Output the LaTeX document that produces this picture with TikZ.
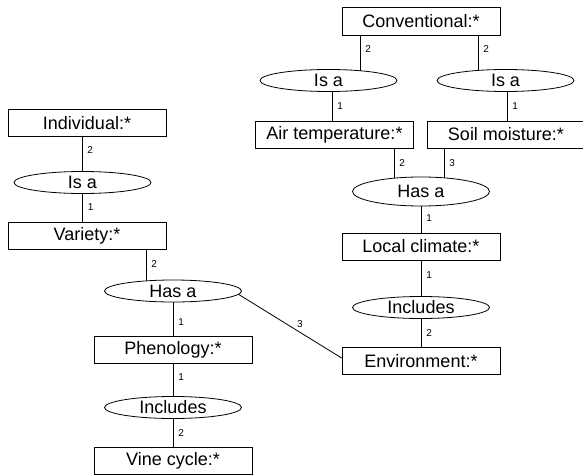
\documentclass[tikz,border=0pt]{standalone}
\usepackage{fontspec}
\setmainfont{Liberation Sans}
\usetikzlibrary{shapes.geometric,backgrounds}
\begin{document}
\begin{tikzpicture}[x=1pt,y=-1pt,
  box/.style={draw, line width=0.8pt, fill=white, minimum width=158pt, minimum height=27pt, inner sep=0pt, font=\fontsize{18}{20}\selectfont},
  rel/.style={draw, ellipse, line width=0.8pt, fill=white, minimum width=137pt, minimum height=22pt, inner sep=0pt, font=\fontsize{18}{20}\selectfont},
  conn/.style={line width=0.8pt},
  lab/.style={font=\fontsize{10}{12}\selectfont, anchor=west, inner sep=0pt, xshift=5pt}]
\useasboundingbox (0,0) rectangle (583,476);
% nodes
\node[box, minimum height=28pt] (conv) at (421,21) {Conventional:*};
\node[rel] (isa1) at (328.5,80.5) {Is a};
\node[rel] (isa2) at (505.5,80.5) {Is a};
\node[box] (air) at (334.5,135) {Air temperature:*};
\node[box] (soil) at (506,134.5) {Soil moisture:*};
\node[rel, minimum height=29pt] (hasa) at (421,191.5) {Has a};
\node[box] (local) at (421,246.5) {Local climate:*};
\node[rel] (incr) at (421,307.5) {Includes};
\node[box] (env) at (421,361) {Environment:*};
\node[box] (ind) at (87,123) {Individual:*};
\node[rel] (isa3) at (82.5,182.5) {Is a};
\node[box] (var) at (87,235.5) {Variety:*};
\node[rel] (hasa2) at (173,291) {Has a};
\node[box] (phen) at (173,349.5) {Phenology:*};
\node[rel] (incl) at (173,407.5) {Includes};
\node[box] (vine) at (173,460.5) {Vine cycle:*};
% connectors
\begin{scope}[on background layer]
\draw[conn] ([xshift=-61pt]conv.south) -- node[lab,pos=0.31] {2} ([xshift=-61pt]conv.south |- isa1.center);
\draw[conn] ([xshift=57pt]conv.south) -- node[lab,pos=0.31] {2} ([xshift=57pt]conv.south |- isa2.center);
\draw[conn] ([xshift=3.5pt]isa1.center) -- node[lab,pos=0.63] {1} ([xshift=3.5pt]isa1.center |- air.north);
\draw[conn] ([xshift=1.5pt]isa2.center) -- node[lab,pos=0.63] {1} ([xshift=1.5pt]isa2.center |- soil.north);
\draw[conn] ([xshift=59.5pt]air.south) -- node[lab,pos=0.33] {2} ([xshift=59.5pt]air.south |- hasa.center);
\draw[conn] ([xshift=-62pt]soil.south) -- node[lab,pos=0.33] {3} ([xshift=-62pt]soil.south |- hasa.center);
\draw[conn] (hasa.center) -- node[lab,pos=0.64] {1} (local.north);
\draw[conn] (local.south) -- node[lab,pos=0.32] {1} (incr.center);
\draw[conn] (incr.center) -- node[lab,pos=0.65] {2} (env.north);
\draw[conn] ([xshift=-5pt]ind.south) -- node[lab,pos=0.29] {2} ([xshift=-5pt]ind.south |- isa3.center);
\draw[conn] (isa3.center) -- node[lab,pos=0.62] {1} (isa3.center |- var.north);
\draw[conn] ([xshift=59pt]var.south) -- node[lab,pos=0.36] {2} ([xshift=59pt]var.south |- hasa2.center);
\draw[conn] (hasa2.center) -- node[lab,pos=0.69] {1} (phen.north);
\draw[conn] (phen.south) -- node[lab,pos=0.31] {1} (incl.center);
\draw[conn] (incl.center) -- node[lab,pos=0.65] {2} (vine.north);
\end{scope}
\draw[conn] (hasa2.-3) -- node[pos=0.55, anchor=south west, inner sep=1.5pt, font=\fontsize{10}{12}\selectfont] {3} ([yshift=3pt]env.west);
\end{tikzpicture}
\end{document}
